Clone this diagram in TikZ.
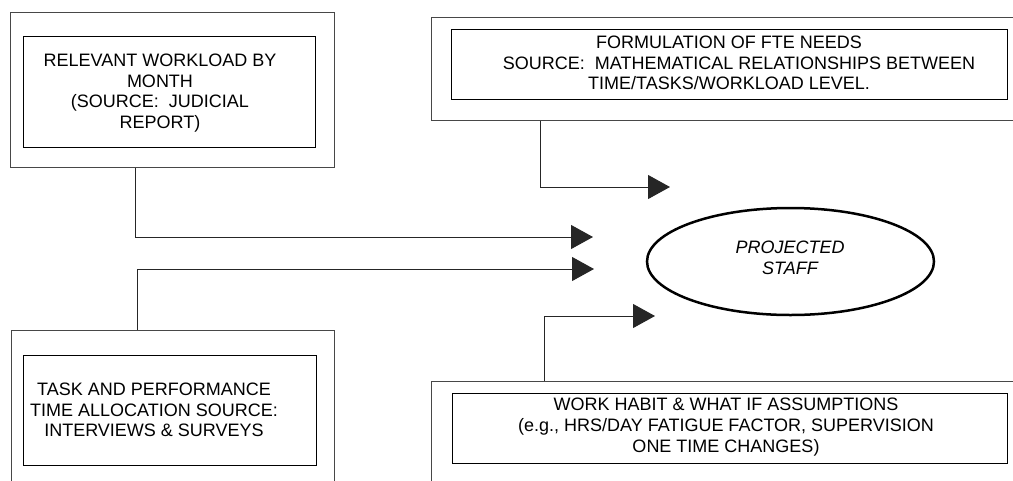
\documentclass[tikz,border=0pt]{standalone}
\usepackage{fontspec}
\setmainfont{Liberation Sans}
\usetikzlibrary{arrows.meta,shapes.geometric}
\begin{document}
\begin{tikzpicture}[x=1pt,y=-1pt,
  outerbox/.style={draw=black!72,line width=1pt,rectangle,inner sep=0pt},
  innerbox/.style={draw=black,line width=1pt,rectangle,inner sep=0pt},
  label/.style={align=center,inner sep=0pt,font=\fontsize{18}{20.7}\selectfont},
  conn/.style={draw=black!85,line width=1pt,-{Triangle[length=22pt,width=24pt]}},
  oval/.style={ellipse,draw=black,line width=2.5pt,inner sep=0pt}]
\clip (0,0) rectangle (1013,480);
\fill[white] (0,0) rectangle (1013,480);
% box 1
\node[outerbox,minimum width=324pt,minimum height=155pt] (b1o) at (172,89.5) {};
\node[innerbox,minimum width=292pt,minimum height=111pt] (b1i) at (169,91.5) {};
\node[label] (t1) at (160,93) {RELEVANT WORKLOAD BY\\MONTH\\(SOURCE:\ \ JUDICIAL\\REPORT)};
% box 2
\node[outerbox,minimum width=594pt,minimum height=103pt] (b2o) at (728,68.5) {};
\node[innerbox,minimum width=556pt,minimum height=70pt] (b2i) at (729,64) {};
\node[label] (t2) at (729,63) {FORMULATION OF FTE NEEDS\\\hspace*{20pt}SOURCE:\ \ MATHEMATICAL RELATIONSHIPS BETWEEN\\TIME/TASKS/WORKLOAD LEVEL.};
% box 3
\node[outerbox,minimum width=323pt,minimum height=170pt] (b3o) at (172.5,415) {};
\node[innerbox,minimum width=293pt,minimum height=110pt] (b3i) at (169.5,410) {};
\node[label] (t3) at (154,410) {TASK AND PERFORMANCE\\TIME ALLOCATION SOURCE:\\INTERVIEWS \& SURVEYS};
% box 4
\node[outerbox,minimum width=599pt,minimum height=119pt] (b4o) at (730.5,440.5) {};
\node[innerbox,minimum width=555pt,minimum height=70pt] (b4i) at (729.5,428) {};
\node[label] (t4) at (726,427) {WORK HABIT \& WHAT IF ASSUMPTIONS\\(e.g., HRS/DAY FATIGUE FACTOR, SUPERVISION\hspace*{50pt}\\ONE TIME CHANGES)};
% projected staff
\node[oval,minimum width=287pt,minimum height=107pt] (ps) at (790.5,261.5) {};
\node[label,font=\fontsize{18}{21}\selectfont\itshape] (pst) at (790,257.5) {PROJECTED\\STAFF};
% arrow ends
\coordinate (a1) at (593,237);
\coordinate (a2) at (670,187);
\coordinate (a3) at (594,269);
\coordinate (a4) at (655,316);
\draw[conn] ([xshift=-37pt]b1o.south) |- (a1);
\draw[conn] ([xshift=-188pt]b2o.south) |- (a2);
\draw[conn] ([xshift=-35.5pt]b3o.north) |- (a3);
\draw[conn] ([xshift=-186.5pt]b4o.north) |- (a4);
\end{tikzpicture}
\end{document}
